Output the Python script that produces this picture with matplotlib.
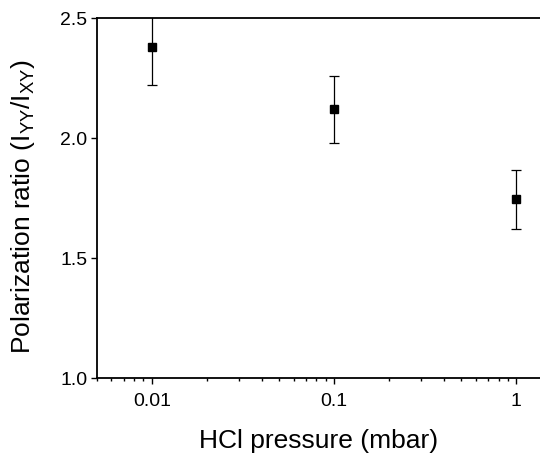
import matplotlib
matplotlib.use("Agg")
import matplotlib.pyplot as plt
from matplotlib.ticker import LogLocator, FixedLocator, NullFormatter

pressure = [0.01, 0.1, 1.0]
ratio = [2.38, 2.12, 1.745]
err_lo = [0.16, 0.14, 0.123]
err_hi = [0.16, 0.14, 0.12]

plt.rcParams["font.family"] = ["Liberation Sans", "DejaVu Sans"]
plt.rcParams["mathtext.fontset"] = "custom"
plt.rcParams["mathtext.rm"] = "Liberation Sans"

fig = plt.figure(figsize=(5.4, 4.56), dpi=100)
ax = fig.add_axes([0.1796, 0.1689, 0.8204, 0.7895])

ax.errorbar(pressure, ratio, yerr=[err_lo, err_hi], fmt="s", color="black",
            ms=5.5, elinewidth=0.9, capsize=3.5, capthick=0.9, clip_on=True)

ax.set_xscale("log")
ax.set_xlim(0.005, 1.35)
ax.set_ylim(1.0, 2.5)
ax.set_xticks([0.01, 0.1, 1])
ax.set_xticklabels(["0.01", "0.1", "1"])
ax.xaxis.set_minor_locator(LogLocator(base=10, subs=range(2, 10)))
ax.xaxis.set_minor_formatter(NullFormatter())
ax.yaxis.set_major_locator(FixedLocator([1.0, 1.5, 2.0, 2.5]))
ax.set_yticklabels(["1.0", "1.5", "2.0", "2.5"])

ax.spines["right"].set_visible(False)
for s in ("left", "top", "bottom"):
    ax.spines[s].set_linewidth(1.3)
ax.tick_params(axis="both", which="major", direction="out", length=4, width=1,
               labelsize=14, pad=3)
ax.tick_params(axis="x", which="minor", direction="out", length=2.5, width=1)
ax.tick_params(axis="x", which="major", pad=6)

ax.set_xlabel("HCl pressure (mbar)", fontsize=19, labelpad=14)
ax.set_ylabel(r"Polarization ratio (I$_{\mathregular{YY}}$/I$_{\mathregular{XY}}$)",
              fontsize=19)
ax.yaxis.set_label_coords(-0.135, 0.48)

fig.savefig("out.png", dpi=100)
